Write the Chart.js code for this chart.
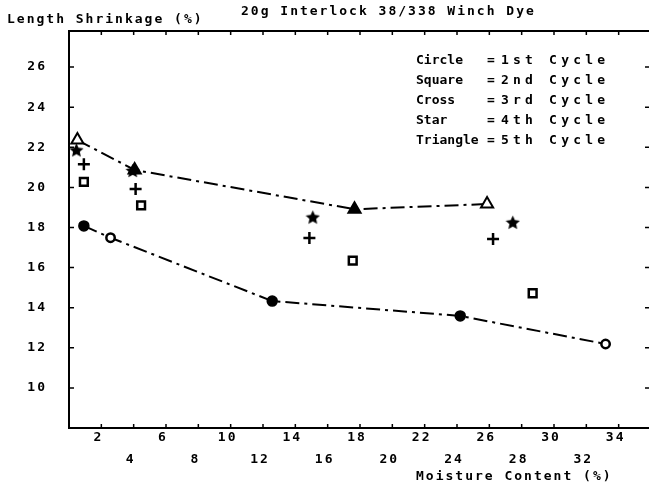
<!DOCTYPE html>
<html><head><meta charset="utf-8">
<script src="https://cdn.jsdelivr.net/npm/chart.js@4"></script>
<style>
html,body{margin:0;padding:0;overflow:hidden;background:#fff;width:649px;height:486px}
#wrap{width:649px;height:486px;overflow:hidden;position:relative}
canvas{display:block}
</style>
</head><body><div id="wrap"><canvas id="c" width="660" height="486"></canvas></div>
<script>
const chartTitle = '20g Interlock 38/338 Winch Dye';
const yAxisTitle = 'Length Shrinkage (%)';
const xAxisTitle = 'Moisture Content (%)';
const shapeNames = ['Circle', 'Square', 'Cross', 'Star', 'Triangle'];
const cycleNames = ['1st Cycle', '2nd Cycle', '3rd Cycle', '4th Cycle', '5th Cycle'];
const xTickValues = [2, 4, 6, 8, 10, 12, 14, 16, 18, 20, 22, 24, 26, 28, 30, 32, 34];
const yTickValues = [10, 12, 14, 16, 18, 20, 22, 24, 26];

const cycle1X = [0.92, 2.57, 12.57, 24.2, 33.19];
const cycle1Y = [18.08, 17.49, 14.33, 13.59, 12.19];
const cycle2X = [0.92, 4.46, 17.55, 28.68];
const cycle2Y = [20.28, 19.10, 16.35, 14.72];
const cycle3X = [0.92, 4.12, 14.87, 26.23];
const cycle3Y = [21.15, 19.92, 17.48, 17.43];
const cycle4X = [0.46, 3.94, 15.08, 27.45];
const cycle4Y = [21.87, 20.84, 18.52, 18.26];
const cycle5X = [0.52, 4.06, 17.66, 25.86];
const cycle5Y = [22.36, 20.87, 18.91, 19.17];

const FONT_FAMILY = '"DejaVu Sans Mono", "Liberation Mono", monospace';
const FONT = 'bold 13px ' + FONT_FAMILY;
const pts = (xs, ys) => xs.map((x, i) => ({x: x, y: ys[i]}));

function makeStar(size) {
  const c = document.createElement('canvas');
  c.width = size; c.height = size;
  const g = c.getContext('2d');
  const cx = size / 2, cy = size / 2 + 0.7, R = size / 2, r = R * 0.47;
  g.beginPath();
  for (let i = 0; i < 10; i++) {
    const a = -Math.PI / 2 + i * Math.PI / 5;
    const rr = i % 2 ? r : R;
    g.lineTo(cx + rr * Math.cos(a), cy + rr * Math.sin(a));
  }
  g.closePath();
  g.fillStyle = '#000';
  g.fill();
  return c;
}
const starImg = makeStar(15);

const spacingPlugin = {
  id: 'spacing',
  afterInit(chart) { try { chart.ctx.letterSpacing = '2px'; } catch (e) {} }
};

const framePlugin = {
  id: 'frame',
  beforeDatasetsDraw(chart) {
    const ctx = chart.ctx, a = chart.chartArea;
    const xs = chart.scales.x, ys = chart.scales.y;
    ctx.save();
    ctx.strokeStyle = '#000';
    ctx.lineWidth = 2;
    ctx.strokeRect(a.left, a.top, a.right - a.left, a.bottom - a.top);
    ctx.lineWidth = 1.5;
    ctx.beginPath();
    xTickValues.forEach(v => {
      const px = xs.getPixelForValue(v);
      ctx.moveTo(px, a.bottom); ctx.lineTo(px, a.bottom - 4);
      ctx.moveTo(px, a.top); ctx.lineTo(px, a.top + 4);
    });
    yTickValues.forEach(v => {
      const py = ys.getPixelForValue(v);
      ctx.moveTo(a.left, py); ctx.lineTo(a.left + 5, py);
      ctx.moveTo(a.right, py); ctx.lineTo(a.right - 6, py);
    });
    ctx.stroke();
    ctx.restore();
  }
};

const textPlugin = {
  id: 'texts',
  afterDraw(chart) {
    const ctx = chart.ctx;
    ctx.save();
    ctx.fillStyle = '#000';
    ctx.font = FONT;
    ctx.textAlign = 'left';
    ctx.textBaseline = 'alphabetic';
    ctx.fillText(chartTitle, 241, 15);
    ctx.fillText(yAxisTitle, 7, 23);
    ctx.textBaseline = 'middle';
    shapeNames.forEach((s, i) => {
      const y = 61 + i * 20;
      try { ctx.letterSpacing = '0px'; } catch (e) {}
      ctx.fillText(s, 416, y);
      ctx.fillText('=', 487, y);
      try { ctx.letterSpacing = '4.2px'; } catch (e) {}
      ctx.fillText(cycleNames[i], 501, y);
    });
    try { ctx.letterSpacing = '2px'; } catch (e) {}
    ctx.fillText(xAxisTitle, 416, 477);
    ctx.restore();
  }
};

const dash = [14, 5, 3, 5];

new Chart(document.getElementById('c'), {
  type: 'scatter',
  data: {
    datasets: [
      {
        label: cycleNames[0], data: pts(cycle1X, cycle1Y), showLine: true,
        borderColor: '#000', borderWidth: 2, borderDash: dash,
        pointStyle: 'circle', pointRadius: [5, 4.2, 5, 5, 4.2],
        pointBackgroundColor: ['#000', '#fff', '#000', '#000', '#fff'],
        pointBorderColor: '#000', pointBorderWidth: [1.5, 2.5, 1.5, 1.5, 2.5]
      },
      {
        label: cycleNames[1], data: pts(cycle2X, cycle2Y), showLine: false,
        pointStyle: 'rect', pointRadius: 5.5, pointBackgroundColor: '#fff',
        pointBorderColor: '#000', pointBorderWidth: 2.5
      },
      {
        label: cycleNames[2], data: pts(cycle3X, cycle3Y), showLine: false,
        pointStyle: 'cross', pointRadius: 6, pointBorderColor: '#000', pointBorderWidth: 2.5
      },
      {
        label: cycleNames[3], data: pts(cycle4X, cycle4Y), showLine: false,
        pointStyle: starImg, pointRadius: 7
      },
      {
        label: cycleNames[4], data: pts(cycle5X, cycle5Y), showLine: true,
        borderColor: '#000', borderWidth: 2, borderDash: dash,
        pointStyle: 'triangle', pointRadius: 7,
        pointBackgroundColor: ['#fff', '#000', '#000', '#fff'],
        pointBorderColor: '#000', pointBorderWidth: 2
      }
    ]
  },
  options: {
    responsive: false,
    animation: false,
    events: [],
    layout: { padding: { left: 0, right: 6, top: 31, bottom: 0 } },
    plugins: { legend: { display: false }, tooltip: { enabled: false }, title: { display: false } },
    scales: {
      x: {
        type: 'linear', min: 0, max: 36,
        grid: { display: false }, border: { display: false },
        afterBuildTicks: s => { s.ticks = xTickValues.map(v => ({ value: v })); },
        afterFit: s => { s.height = 58; },
        ticks: {
          padding: -9, labelOffset: -3, autoSkip: false, maxRotation: 0, minRotation: 0,
          color: '#000',
          font: { family: FONT_FAMILY, size: 13, weight: 'bold', lineHeight: 1.69 },
          callback: v => (v % 4 === 2) ? [String(v)] : ['', String(v)]
        }
      },
      y: {
        type: 'linear', min: 8, max: 27.8,
        grid: { display: false }, border: { display: false },
        afterBuildTicks: s => { s.ticks = yTickValues.map(v => ({ value: v })); },
        afterFit: s => { s.width = 69; },
        ticks: {
          padding: 14, color: '#000',
          font: { family: FONT_FAMILY, size: 13, weight: 'bold' }
        }
      }
    }
  },
  plugins: [spacingPlugin, framePlugin, textPlugin]
});
</script>
</body></html>
